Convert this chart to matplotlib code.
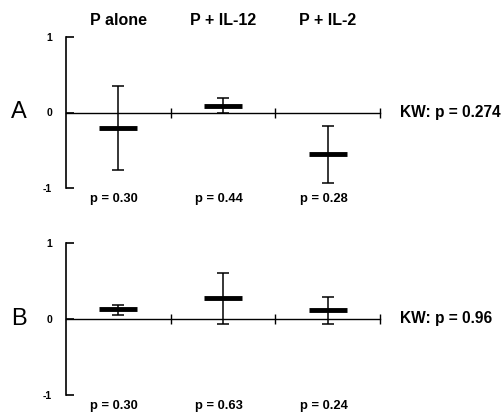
import matplotlib
matplotlib.use("Agg")
import matplotlib.pyplot as plt
import numpy as np

groups = ["P alone", "P + IL-12", "P + IL-2"]

mean_a = [-0.20, 0.09, -0.55]
upper_a = [0.35, 0.19, -0.18]
lower_a = [-0.76, -0.01, -0.93]
pvals_a = ["0.30", "0.44", "0.28"]
kw_a = "0.274"

mean_b = [0.13, 0.28, 0.12]
upper_b = [0.18, 0.61, 0.29]
lower_b = [0.05, -0.06, -0.07]
pvals_b = ["0.30", "0.63", "0.24"]
kw_b = "0.96"

plt.rcParams["font.family"] = ["Liberation Sans", "DejaVu Sans"]

fig = plt.figure(figsize=(5.04, 4.12), dpi=100)
W, H = 504, 412


def add_panel(bottom_px, top_px):
    left, right = 66, 380
    return fig.add_axes([left / W, 1 - bottom_px / H, (right - left) / W, (bottom_px - top_px) / H])


def draw_panel(ax, letter, means, upper, lower, pvals, kw):
    x = np.arange(len(means)) + 0.5
    means = np.array(means)
    err = [means - np.array(lower), np.array(upper) - means]
    ax.errorbar(x, means, yerr=err, fmt="none", ecolor="black", elinewidth=1.1,
                capsize=4, capthick=1.1, zorder=3)
    ax.hlines(means, x - 0.18, x + 0.18, color="black", linewidth=3.5, zorder=4)

    ax.set_xlim(0, 3)
    ax.set_ylim(-1, 1)
    for s in ["top", "right"]:
        ax.spines[s].set_visible(False)
    ax.spines["bottom"].set_position(("data", 0))
    ax.spines["left"].set_linewidth(1.2)
    ax.spines["bottom"].set_linewidth(1.0)
    ax.set_xticks([1, 2, 3])
    ax.set_xticklabels([])
    ax.tick_params(axis="x", direction="inout", length=7, width=1)
    ax.set_yticks([-1, 0, 1])
    ax.set_yticklabels(["-1", "0", "1"], fontsize=7.5, fontweight="bold")
    ax.tick_params(axis="y", direction="in", length=6, width=1.2, pad=10)
    ax.patch.set_visible(False)

    ax.text(-0.45, 0, letter, fontsize=17, ha="center", va="center",
            clip_on=False)
    ax.text(3.19, 0, f"KW: p = {kw}", fontsize=11.2, fontweight="bold",
            ha="left", va="center", clip_on=False)
    for xi, p in zip(x, pvals):
        ax.text(xi - 0.04, -1.14, f"p = {p}", fontsize=9.3, fontweight="bold",
                ha="center", va="center", clip_on=False)
    return x


ax_a = add_panel(188, 37)
xa = draw_panel(ax_a, "A", mean_a, upper_a, lower_a, pvals_a, kw_a)
for xi, g in zip(xa, groups):
    ax_a.text(xi, 1.22, g, fontsize=11.5, fontweight="bold", ha="center",
              va="center", clip_on=False)

ax_b = add_panel(395, 243)
draw_panel(ax_b, "B", mean_b, upper_b, lower_b, pvals_b, kw_b)

fig.savefig("out.png", dpi=100)
